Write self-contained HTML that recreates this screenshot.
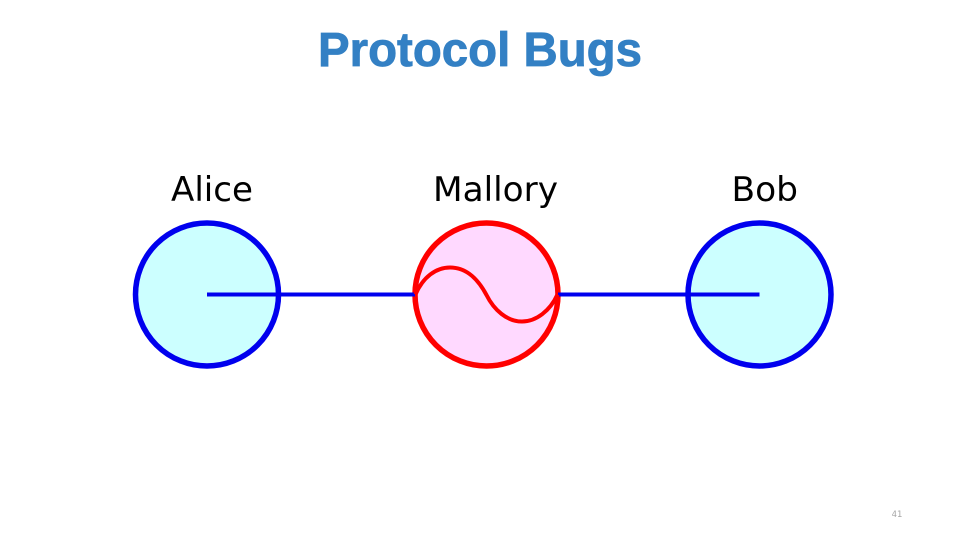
<!DOCTYPE html>
<html><head><meta charset="utf-8"><style>
html,body{margin:0;padding:0;background:#fff;width:960px;height:540px;overflow:hidden}
svg{display:block}
</style></head><body>
<svg width="960" height="540" viewBox="0 0 960 540" xmlns="http://www.w3.org/2000/svg">
<text x="318" y="66" font-family="'Liberation Sans',sans-serif" font-weight="700" font-size="48" fill="#3380c4" stroke="#3380c4" stroke-width="0.8" textLength="324" lengthAdjust="spacingAndGlyphs">Protocol Bugs</text>
<text x="171" y="201" font-family="'DejaVu Sans',sans-serif" font-size="34" fill="#000" textLength="82" lengthAdjust="spacingAndGlyphs">Alice</text>
<text x="433" y="201" font-family="'DejaVu Sans',sans-serif" font-size="34" fill="#000" textLength="125" lengthAdjust="spacingAndGlyphs">Mallory</text>
<text x="731.5" y="201" font-family="'DejaVu Sans',sans-serif" font-size="34" fill="#000" textLength="66.5" lengthAdjust="spacingAndGlyphs">Bob</text>
<circle cx="207" cy="294.5" r="71.5" fill="#ccffff" stroke="#0000ee" stroke-width="5.5"/>
<circle cx="759.5" cy="294.5" r="71.5" fill="#ccffff" stroke="#0000ee" stroke-width="5.5"/>
<circle cx="486.5" cy="294.5" r="71.5" fill="#ffd9ff" stroke="#ff0000" stroke-width="5.5"/>
<line x1="207" y1="294.5" x2="415" y2="294.5" stroke="#0000ee" stroke-width="4"/>
<line x1="558" y1="294.5" x2="759.5" y2="294.5" stroke="#0000ee" stroke-width="4"/>
<path d="M415.5 294.5 C423 277 436 267.5 450 267.5 C468 267.5 479 281 486.5 295 C494 310 507 321.5 522 321.5 C536 321.5 550 311 557.5 294.5" fill="none" stroke="#ff0000" stroke-width="4"/>
<text x="897" y="517" text-anchor="middle" font-family="'DejaVu Sans',sans-serif" font-size="8.5" fill="#a6a6a6">41</text>
</svg>
</body></html>
